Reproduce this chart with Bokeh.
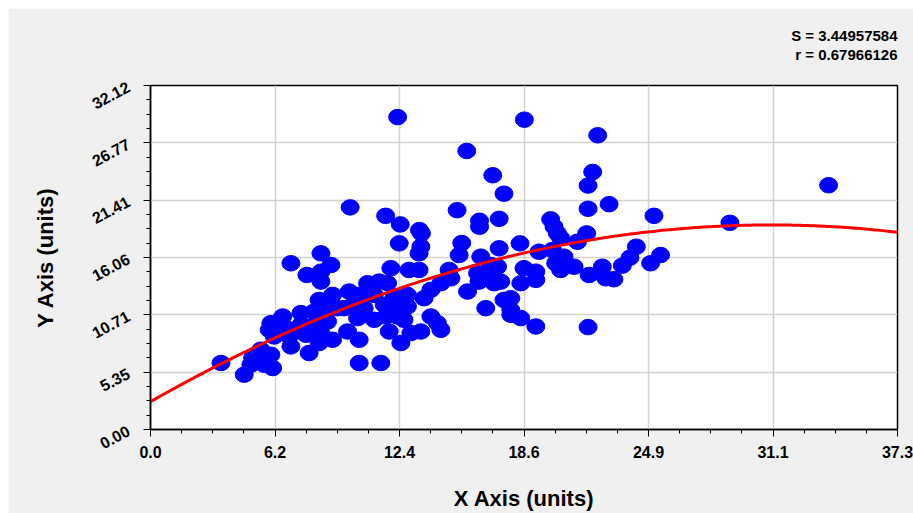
import numpy as np
from bokeh.plotting import figure
from bokeh.models import Range1d, FixedTicker, CustomJSTickFormatter, Title, ColumnDataSource
from bokeh.embed import file_html
from bokeh.resources import INLINE

# ---- data ----
x_vals = [12.34, 18.67, 22.33, 15.79, 17.09, 17.65, 22.08, 21.85, 21.85, 22.90,
          9.97, 11.74, 12.47, 13.43, 15.31, 16.43, 16.43, 17.41, 19.98, 20.15,
          20.32, 20.48, 21.78, 12.42, 15.54, 18.45, 25.14, 28.93, 33.86, 24.26,
          23.94, 23.56, 25.47, 24.97, 22.56, 23.14, 22.73, 21.90, 21.32, 21.15,
          17.41, 19.40, 20.07, 20.65, 20.23, 20.48, 18.65, 19.24, 19.24, 18.49,
          16.49, 16.99, 17.33, 17.49, 16.74, 17.65, 17.99, 17.99, 17.99, 18.49,
          19.24, 21.85, 13.53, 13.50, 13.41, 15.41, 12.00, 12.91, 13.41, 14.91,
          15.00, 14.50, 14.00, 15.83, 16.33, 16.83, 17.16, 10.84, 11.42, 11.84,
          9.92, 10.42, 11.17, 12.17, 12.83, 13.66, 10.17, 9.67, 10.67, 11.67,
          12.17, 12.83, 12.34, 10.34, 11.17, 11.75, 12.66, 14.00, 14.33, 14.50,
          9.84, 10.42, 11.92, 13.00, 13.50, 12.50, 10.42, 11.50, 8.51, 7.01,
          9.01, 7.81, 8.51, 8.51, 9.09, 8.42, 7.51, 8.17, 8.76, 9.34,
          6.60, 6.01, 5.93, 6.76, 7.51, 8.26, 8.84, 6.18, 6.93, 7.76,
          8.51, 9.09, 8.42, 7.01, 7.92, 5.51, 6.01, 5.10, 3.52, 5.01,
          5.68, 6.10, 4.68, 16.40]
y_vals = [29.17, 28.93, 27.47, 26.01, 23.74, 22.02, 24.05, 22.78, 20.61, 21.04,
          20.74, 19.95, 19.15, 18.62, 20.48, 19.49, 18.93, 19.67, 19.62, 18.93,
          18.31, 17.88, 18.31, 17.38, 17.41, 17.38, 19.95, 19.30, 22.81, 17.07,
          16.04, 15.30, 16.29, 15.52, 15.20, 14.03, 14.12, 14.43, 17.53, 15.20,
          16.92, 16.60, 16.76, 16.14, 15.52, 14.90, 15.06, 14.74, 13.97, 13.66,
          16.14, 15.36, 15.20, 13.81, 11.33, 12.10, 12.26, 11.17, 10.71, 10.40,
          9.62, 9.56, 18.31, 17.07, 16.45, 16.29, 15.06, 14.90, 14.90, 14.90,
          14.12, 13.66, 13.04, 12.88, 14.59, 14.43, 13.66, 13.66, 13.81, 13.66,
          12.88, 12.57, 12.57, 12.41, 12.57, 12.26, 11.80, 11.33, 11.33, 11.64,
          11.33, 11.48, 10.55, 10.40, 10.24, 10.55, 10.24, 10.55, 9.93, 9.31,
          9.15, 8.38, 9.15, 9.00, 9.15, 8.07, 6.21, 6.21, 16.45, 15.52,
          15.36, 14.43, 14.74, 13.81, 12.57, 12.10, 10.87, 11.01, 11.48, 11.33,
          10.55, 9.93, 9.31, 9.47, 9.78, 9.93, 10.08, 8.69, 8.69, 8.85,
          9.00, 8.38, 8.07, 7.76, 7.14, 7.45, 6.98, 6.68, 6.21, 6.05,
          6.05, 5.74, 5.12, 13.81]

# polynomial fit coefficients (c0 + c1*x + c2*x^2)
fit_coeffs = [2.6, 1.0645, -0.01717]

x_max = 37.3
y_max = 32.12
x_tick_labels = ["0.0", "6.2", "12.4", "18.6", "24.9", "31.1", "37.3"]
y_tick_labels = ["0.00", "5.35", "10.71", "16.06", "21.41", "26.77", "32.12"]
stat_texts = ["S = 3.44957584", "r = 0.67966126"]

FONT = "Liberation Sans"

p = figure(width=905, height=505,
           x_range=Range1d(0, x_max), y_range=Range1d(0, y_max),
           output_backend="svg", toolbar_location=None,
           min_border_left=142, min_border_right=16,
           min_border_top=77, min_border_bottom=75,
           border_fill_color="#f0f0f0", background_fill_color="white")
p.styles = {"margin-left": "8px", "margin-top": "8px"}

p.outline_line_color = "black"
p.outline_line_width = 1.5

n = len(x_tick_labels) - 1
xt = [i * x_max / n for i in range(n + 1)]
yt = [i * y_max / n for i in range(n + 1)]
xm = [i * x_max / (n * 4) for i in range(n * 4 + 1)]
ym = [i * y_max / (n * 4) for i in range(n * 4 + 1)]
p.xaxis.ticker = FixedTicker(ticks=xt, minor_ticks=xm)
p.yaxis.ticker = FixedTicker(ticks=yt, minor_ticks=ym)
p.xaxis.formatter = CustomJSTickFormatter(args=dict(labels=x_tick_labels, step=x_max / n),
                                          code="return labels[Math.round(tick/step)];")
p.yaxis.formatter = CustomJSTickFormatter(args=dict(labels=y_tick_labels, step=y_max / n),
                                          code="return labels[Math.round(tick/step)];")

for ax in (p.xaxis[0], p.yaxis[0]):
    ax.axis_line_color = "black"
    ax.axis_line_width = 1.5
    ax.major_tick_line_color = "black"
    ax.minor_tick_line_color = "black"
    ax.major_tick_in = 0
    ax.minor_tick_in = 0
    ax.major_tick_out = 7
    ax.minor_tick_out = 4
    ax.major_label_text_font = FONT
    ax.major_label_text_font_style = "bold"
    ax.major_label_text_font_size = "16px"
    ax.major_label_text_color = "black"
    ax.axis_label_text_font = FONT
    ax.axis_label_text_font_style = "bold"
    ax.axis_label_text_font_size = "22px"
    ax.axis_label_text_color = "black"

p.xaxis.axis_label = "X Axis (units)"
p.yaxis.axis_label = "Y Axis (units)"
p.xaxis.major_label_standoff = 9
p.xaxis.axis_label_standoff = 25
p.yaxis.major_label_standoff = 15
p.yaxis.major_label_orientation = 0.49
p.yaxis.axis_label_standoff = 27

p.xgrid.grid_line_color = "#d2d2d2"
p.ygrid.grid_line_color = "#d2d2d2"
p.xgrid.grid_line_width = 1.5
p.ygrid.grid_line_width = 1.5

src = ColumnDataSource(dict(x=x_vals, y=y_vals))
p.ellipse(x="x", y="y", width=18, height=15.5, width_units="screen", height_units="screen",
          source=src, fill_color="#0000ff", line_color="#0000ff")

fx = np.linspace(0, x_max, 300)
fy = fit_coeffs[0] + fit_coeffs[1] * fx + fit_coeffs[2] * fx ** 2
p.line(fx, fy, line_color="red", line_width=3)

# stats text: first added sits nearest the frame
p.add_layout(Title(text=stat_texts[1], align="right", standoff=46,
                   text_font=FONT, text_font_style="bold", text_font_size="15px",
                   text_color="black"), "above")
p.add_layout(Title(text=stat_texts[0], align="right", standoff=-46,
                   text_font=FONT, text_font_style="bold", text_font_size="15px",
                   text_color="black"), "above")

open("out.html", "w").write(file_html(p, INLINE))
